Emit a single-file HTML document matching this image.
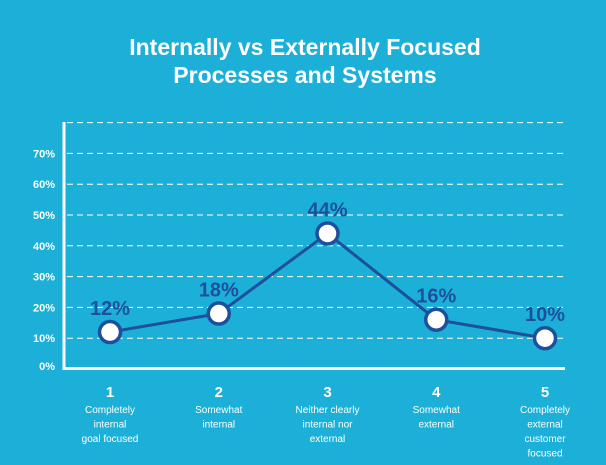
<!DOCTYPE html>
<html><head><meta charset="utf-8"><style>
body{margin:0;background:#1cb0d9;}
svg{display:block;font-family:"Liberation Sans",sans-serif;}
</style></head><body>
<svg id="c" width="606" height="465">
<rect width="606" height="465" fill="#1cb0d9"/>
<text x="305" y="55" text-anchor="middle" fill="#fff" font-size="23" font-weight="bold">Internally vs Externally Focused</text>
<text x="305" y="83" text-anchor="middle" fill="#fff" font-size="23" font-weight="bold">Processes and Systems</text>
<g id="grid"></g><g id="plot"></g>
</svg>
<script>
const categories=["1","2","3","4","5"];
const descriptions=[["Completely","internal","goal focused"],["Somewhat","internal"],["Neither clearly","internal nor","external"],["Somewhat","external"],["Completely","external","customer","focused"]];
const values=[12,18,44,16,10];
const yTicks=[0,10,20,30,40,50,60,70];
const NS="http://www.w3.org/2000/svg";
const svg=document.getElementById('c');
const X0=64,X1=565;
function x(i){return 110+(545-110)*i/(categories.length-1);}
function y(v){return 369-3.08*v;}
function mk(t,a,p){const e=document.createElementNS(NS,t);for(const k in a)e.setAttribute(k,a[k]);(p||svg).appendChild(e);return e;}
const grid=document.getElementById('grid'),plot=document.getElementById('plot');
[10,20,30,40,50,60,70,80].forEach(v=>{const l=mk('line',{x1:X0+3,x2:X1,y1:y(v),y2:y(v),stroke:'#fff','stroke-width':1,'stroke-dasharray':'6,4'},grid);

});
yTicks.forEach(v=>{const t=mk('text',{x:55,y:y(v)+(v==0?1:4),'text-anchor':'end',fill:'#fff','font-size':11,'font-weight':'bold'},grid);t.textContent=v+'%';

});
const ya=mk('line',{x1:X0,x2:X0,y1:122,y2:370,stroke:'#fff','stroke-width':3},grid);


const xa=mk('line',{x1:X0-1.5,x2:X1,y1:368.5,y2:368.5,stroke:'#fff','stroke-width':3},grid);


const pl=mk('polyline',{points:values.map((v,i)=>x(i)+','+y(v)).join(' '),fill:'none',stroke:'#1d4f9c','stroke-width':3},plot);


values.forEach((v,i)=>{
const c=mk('circle',{cx:x(i),cy:y(v),r:10.5,fill:'#fff',stroke:'#1d4f9c','stroke-width':3.5},plot);


const t=mk('text',{x:x(i),y:y(v)-17,'text-anchor':'middle',fill:'#1d4f9c','font-size':20,'font-weight':'bold'},plot);t.textContent=v+'%';


const n=mk('text',{x:x(i),y:397,'text-anchor':'middle',fill:'#fff','font-size':15,'font-weight':'bold'},plot);n.textContent=categories[i];


descriptions[i].forEach((s,j)=>{const d=mk('text',{x:x(i),y:413+j*14.5,'text-anchor':'middle',fill:'#fff','font-size':10},plot);d.textContent=s;

});
});
</script>
</body></html>
